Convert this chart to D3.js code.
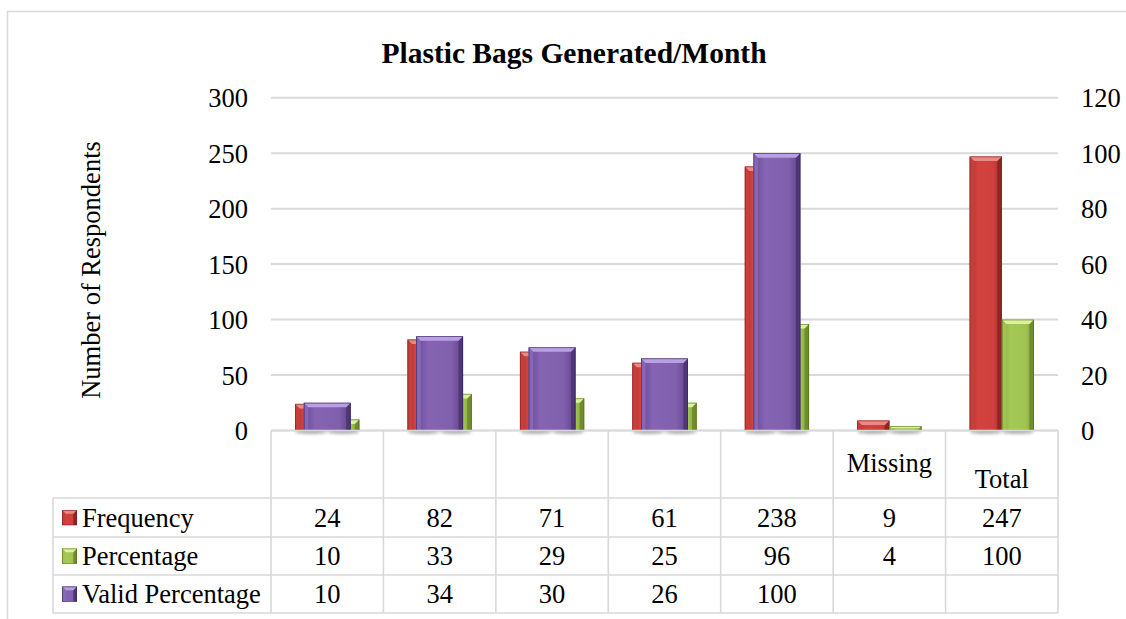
<!DOCTYPE html>
<html>
<head>
<meta charset="utf-8">
<script src="https://cdn.jsdelivr.net/npm/d3@7"></script>
<style>
  body { margin: 0; background: #fff; }
  svg { display: block; }
  text { font-family: "Liberation Serif", "Times New Roman", serif; fill: #000; }
</style>
</head>
<body>
<svg id="chart" width="1126" height="619"></svg>
<script>
// Plastic bags generated per month: frequency, percentage and valid percentage
const categories = ["", "", "", "", "", "Missing", "Total"];
const frequency = [24, 82, 71, 61, 238, 9, 247];
const percentage = [10, 33, 29, 25, 96, 4, 100];
const validPercentage = [10, 34, 30, 26, 100, null, null];
const leftTicks = [0, 50, 100, 150, 200, 250, 300];
const rightTicks = [0, 20, 40, 60, 80, 100, 120];
const seriesNames = ["Frequency", "Percentage", "Valid Percentage"];
const chartTitle = "Plastic Bags Generated/Month";
const yTitle = "Number of Respondents";

const svg = d3.select("#chart");
const W = 1126, H = 619;

// plot geometry
const plotL = 271, plotR = 1058, plotT = 97.7, plotB = 430.5;
const tableL = 53;
const rowLines = [plotB, 498, 537, 575, 613];

// bevel palettes
const palettes = {
  "Frequency":        { body: ["#a8302d", "#d2433f", "#cf403c", "#9c2a27"], top: "#ea8a85", left: "#c9413d", right: "#8a2523", edge: "#7a1f1d" },
  "Percentage":       { body: ["#86a83f", "#a5c957", "#a0c352", "#7b9b36"], top: "#dcf39a", left: "#a2c556", right: "#6c8a2c", edge: "#4f6a1c" },
  "Valid Percentage": { body: ["#6a4a96", "#8565b3", "#8060ad", "#5f428a"], top: "#b9a0e4", left: "#8a6bb8", right: "#4d3474", edge: "#33234f" }
};

const defs = svg.append("defs");
Object.entries(palettes).forEach(([name, p], i) => {
  const gr = defs.append("linearGradient").attr("id", "body" + i)
    .attr("x1", "0").attr("x2", "1").attr("y1", "0").attr("y2", "0");
  [[0, p.body[0]], [0.25, p.body[1]], [0.75, p.body[2]], [1, p.body[3]]].forEach(([o, c]) =>
    gr.append("stop").attr("offset", o).attr("stop-color", c));
  p.grad = "url(#body" + i + ")";
});
defs.append("filter").attr("id", "shadowBlur").attr("x", "-20%").attr("y", "-200%")
  .attr("width", "140%").attr("height", "500%")
  .append("feGaussianBlur").attr("stdDeviation", 1.6);

// outer chart frame
svg.append("rect").attr("x", 7.5).attr("y", 11.5).attr("width", W + 10).attr("height", H + 10)
  .attr("fill", "none").attr("stroke", "#d9d9d9").attr("stroke-width", 1.5);

// scales
const x = d3.scaleBand().domain(d3.range(categories.length)).range([plotL, plotR]).padding(0);
const xPrimary = d3.scaleBand().domain(["Frequency", "Percentage"]).range([0, x.bandwidth()])
  .paddingInner(0).paddingOuter(0.75);
const xSecondary = d3.scaleBand().domain(["Valid Percentage"]).range([0, x.bandwidth()])
  .paddingInner(0).paddingOuter(0.7);
const yLeft = d3.scaleLinear().domain([0, 300]).range([plotB, plotT]);
const yRight = d3.scaleLinear().domain([0, 120]).range([plotB, plotT]);

// gridlines
svg.append("g").selectAll("line").data(leftTicks).join("line")
  .attr("x1", plotL).attr("x2", plotR)
  .attr("y1", d => yLeft(d)).attr("y2", d => yLeft(d))
  .attr("stroke", "#d9d9d9").attr("stroke-width", 2);

// axes (labels only)
const fs = 26.5;
const axL = svg.append("g").attr("transform", `translate(${plotL},0)`)
  .call(d3.axisLeft(yLeft).tickValues(leftTicks).tickSize(0).tickPadding(23));
const axR = svg.append("g").attr("transform", `translate(${plotR},0)`)
  .call(d3.axisRight(yRight).tickValues(rightTicks).tickSize(0).tickPadding(23));
[axL, axR].forEach(a => {
  a.select(".domain").remove();
  a.selectAll("text").attr("font-size", fs).attr("font-family", '"Liberation Serif", serif')
    .attr("fill", "#000").attr("dy", "0.34em");
});

// chart title
svg.append("text").attr("x", 574).attr("y", 63).attr("text-anchor", "middle")
  .attr("font-size", 29.5).attr("font-weight", "bold").text(chartTitle);

// y axis title
svg.append("text").attr("transform", `translate(100,270) rotate(-90)`)
  .attr("text-anchor", "middle").attr("font-size", fs).text(yTitle);

// bevelled bar
function bevelBar(g, x0, y0, w, h, p) {
  if (h <= 0) return;
  const b = Math.min(4.5, h / 2, w / 4);
  const x1 = x0 + w, yb = y0 + h;
  g.append("rect").attr("x", x0).attr("y", y0).attr("width", w).attr("height", h).attr("fill", p.grad);
  g.append("polygon").attr("points", [[x0, y0], [x0 + b, y0 + b], [x0 + b, yb], [x0, yb]].join(" "))
    .attr("fill", p.left).attr("opacity", 0.85);
  g.append("polygon").attr("points", [[x1, y0], [x1, yb], [x1 - b, yb], [x1 - b, y0 + b]].join(" "))
    .attr("fill", p.right).attr("opacity", 0.9);
  g.append("polygon").attr("points", [[x0, y0], [x1, y0], [x1 - b, y0 + b], [x0 + b, y0 + b]].join(" "))
    .attr("fill", p.top);
  g.append("rect").attr("x", x0 + 0.4).attr("y", y0 + 0.4).attr("width", w - 0.8).attr("height", h - 0.4)
    .attr("fill", "none").attr("stroke", p.edge).attr("stroke-width", 0.8).attr("stroke-opacity", 0.7);
}

const barsG = svg.append("g");
const primary = [["Frequency", frequency], ["Percentage", percentage]];

// soft shadows beneath the bars
const shadowG = barsG.append("g").attr("filter", "url(#shadowBlur)");
categories.forEach((c, i) => {
  primary.forEach(([name, vals]) => {
    if (vals[i] == null) return;
    const x0 = x(i) + xPrimary(name);
    shadowG.append("ellipse").attr("cx", x0 + xPrimary.bandwidth() / 2).attr("cy", plotB + 1.5)
      .attr("rx", xPrimary.bandwidth() / 2).attr("ry", 1.8).attr("fill", "#000").attr("opacity", 0.35);
  });
});

// primary axis series
categories.forEach((c, i) => {
  primary.forEach(([name, vals]) => {
    const v = vals[i];
    if (v == null) return;
    const x0 = x(i) + xPrimary(name);
    bevelBar(barsG, x0, yLeft(v), xPrimary.bandwidth(), yLeft(0) - yLeft(v), palettes[name]);
  });
});
// secondary axis series drawn in front
categories.forEach((c, i) => {
  const v = validPercentage[i];
  if (v == null) return;
  const x0 = x(i) + xSecondary("Valid Percentage");
  bevelBar(barsG, x0, yRight(v), xSecondary.bandwidth(), yRight(0) - yRight(v), palettes["Valid Percentage"]);
});

// data table
const tg = svg.append("g");
const lineStyle = s => s.attr("stroke", "#d9d9d9").attr("stroke-width", 1.6);
const colEdges = d3.range(categories.length + 1).map(i => i < categories.length ? x(i) : plotR);
// category row verticals
colEdges.forEach(cx => tg.append("line").attr("x1", cx).attr("x2", cx)
  .attr("y1", rowLines[0]).attr("y2", rowLines[4]).call(lineStyle));
tg.append("line").attr("x1", tableL).attr("x2", tableL).attr("y1", rowLines[1]).attr("y2", rowLines[4]).call(lineStyle);
rowLines.forEach((ry, k) => tg.append("line").attr("x1", k === 0 ? plotL : tableL).attr("x2", plotR)
  .attr("y1", ry).attr("y2", ry).call(lineStyle));

// category labels
const catBase = { "Missing": 472, "Total": 488 };
categories.forEach((c, i) => {
  if (!c) return;
  tg.append("text").attr("x", x(i) + x.bandwidth() / 2).attr("y", catBase[c] || 480)
    .attr("text-anchor", "middle").attr("font-size", fs).text(c);
});

// series rows
const rows = [frequency, percentage, validPercentage];
rows.forEach((vals, r) => {
  const top = rowLines[r + 1], bot = rowLines[r + 2], mid = (top + bot) / 2;
  const p = palettes[seriesNames[r]];
  bevelBar(tg, 62, mid - 7.5, 15, 15, p);
  tg.append("text").attr("x", 82).attr("y", mid + 9).attr("font-size", fs).text(seriesNames[r]);
  vals.forEach((v, i) => {
    if (v == null) return;
    tg.append("text").attr("x", x(i) + x.bandwidth() / 2).attr("y", mid + 9)
      .attr("text-anchor", "middle").attr("font-size", fs).text(v);
  });
});
</script>
</body>
</html>
